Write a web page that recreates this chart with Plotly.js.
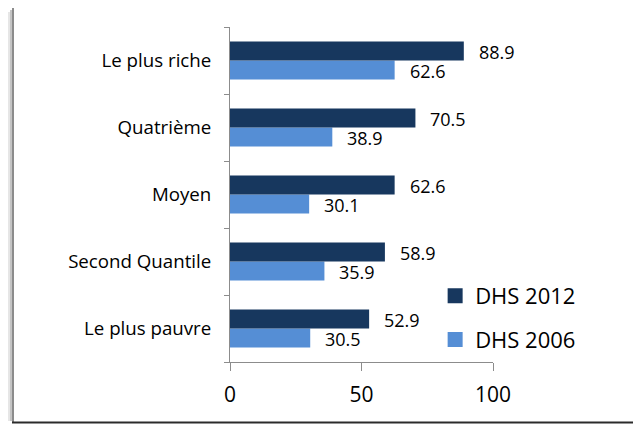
<!DOCTYPE html>
<html><head><meta charset="utf-8">
<script src="https://cdn.plot.ly/plotly-3.0.1.min.js"></script>
<style>body{margin:0;background:#fff}#c{width:633px;height:425px}</style>
</head><body><div id="c"></div>
<script>
var categories = ["Le plus pauvre", "Second Quantile", "Moyen", "Quatrième", "Le plus riche"];
var dhs2012 = [52.9, 58.9, 62.6, 70.5, 88.9];
var dhs2006 = [30.5, 35.9, 30.1, 38.9, 62.6];
var seriesNames = ["DHS 2012", "DHS 2006"];
var xTicks = [0, 50, 100];

var FONT = "'Open Sans', 'Noto Sans', sans-serif";
var c2012 = "#17375E", c2006 = "#558ED5";

var traces = [
  {type: "bar", orientation: "h", name: seriesNames[1], y: categories, x: dhs2006,
   marker: {color: c2006}, hoverinfo: "none", showlegend: false},
  {type: "bar", orientation: "h", name: seriesNames[0], y: categories, x: dhs2012,
   marker: {color: c2012}, hoverinfo: "none", showlegend: false},
  // legend entries (no data marks)
  {type: "scatter", mode: "markers", name: seriesNames[0], x: [null], y: [null], legendgroup: "a",
   marker: {symbol: "square", size: 15, color: c2012}, hoverinfo: "none"},
  {type: "scatter", mode: "markers", name: seriesNames[1], x: [null], y: [null], legendgroup: "b",
   marker: {symbol: "square", size: 15, color: c2006}, hoverinfo: "none"}
];

var annotations = [];
categories.forEach(function(cat, i){
  annotations.push({x: dhs2012[i], y: cat, xref: "x", yref: "y", text: dhs2012[i].toFixed(1),
    showarrow: false, xanchor: "left", xshift: 13, yshift: 9, font: {family: FONT, size: 18, color: "#000"}});
  annotations.push({x: dhs2006[i], y: cat, xref: "x", yref: "y", text: dhs2006[i].toFixed(1),
    showarrow: false, xanchor: "left", xshift: 13, yshift: -10, font: {family: FONT, size: 18, color: "#000"}});
});

var L = 230, R = 493, T = 27, B = 362;
function px(v){ return (v - L) / (R - L); }
function py(v){ return (B - v) / (B - T); }

var shapes = [
  {type: "line", xref: "paper", yref: "paper", x0: px(9), x1: px(9), y0: py(12), y1: py(421), line: {color: "#e6e6e6", width: 2}},
  {type: "line", xref: "paper", yref: "paper", x0: px(11), x1: px(11), y0: py(10), y1: py(421), line: {color: "#c4c4c4", width: 2}},
  {type: "line", xref: "paper", yref: "paper", x0: px(13), x1: px(13), y0: py(8), y1: py(422), line: {color: "#8c8c8c", width: 2}},
  {type: "line", xref: "paper", yref: "paper", x0: px(12), x1: px(633), y0: py(422.5), y1: py(422.5), line: {color: "#2b2b2b", width: 2}}
];

var layout = {
  width: 633, height: 425,
  margin: {l: L, r: 633 - R, t: T, b: 425 - B, pad: 0},
  paper_bgcolor: "#fff", plot_bgcolor: "#fff",
  barmode: "group", bargap: 0.43, bargroupgap: 0,
  showlegend: true,
  legend: {x: 0.78, y: py(318), xanchor: "left", yanchor: "middle", traceorder: "grouped",
    font: {family: FONT, size: 22, color: "#000"}, tracegroupgap: 12, itemwidth: 30, bgcolor: "rgba(0,0,0,0)"},
  xaxis: {range: [0, 100], tickvals: xTicks, ticktext: xTicks.map(String), showgrid: false, zeroline: false,
    showline: true, linecolor: "#8c8c8c", linewidth: 1, ticks: "outside", ticklen: 8, tickcolor: "#8c8c8c",
    ticklabelstandoff: 6,
    tickfont: {family: FONT, size: 21, color: "#000"}, fixedrange: true},
  yaxis: {type: "category", categoryarray: categories, showgrid: false, zeroline: false,
    showline: true, linecolor: "#8c8c8c", linewidth: 1, ticks: "outside", ticklen: 5, tickcolor: "#8c8c8c",
    tickson: "boundaries", ticklabelstandoff: 14,
    tickfont: {family: FONT, size: 18.7, color: "#000"}, fixedrange: true},
  annotations: annotations,
  shapes: shapes
};

Plotly.newPlot("c", traces, layout, {displayModeBar: false, staticPlot: true});
</script></body></html>
